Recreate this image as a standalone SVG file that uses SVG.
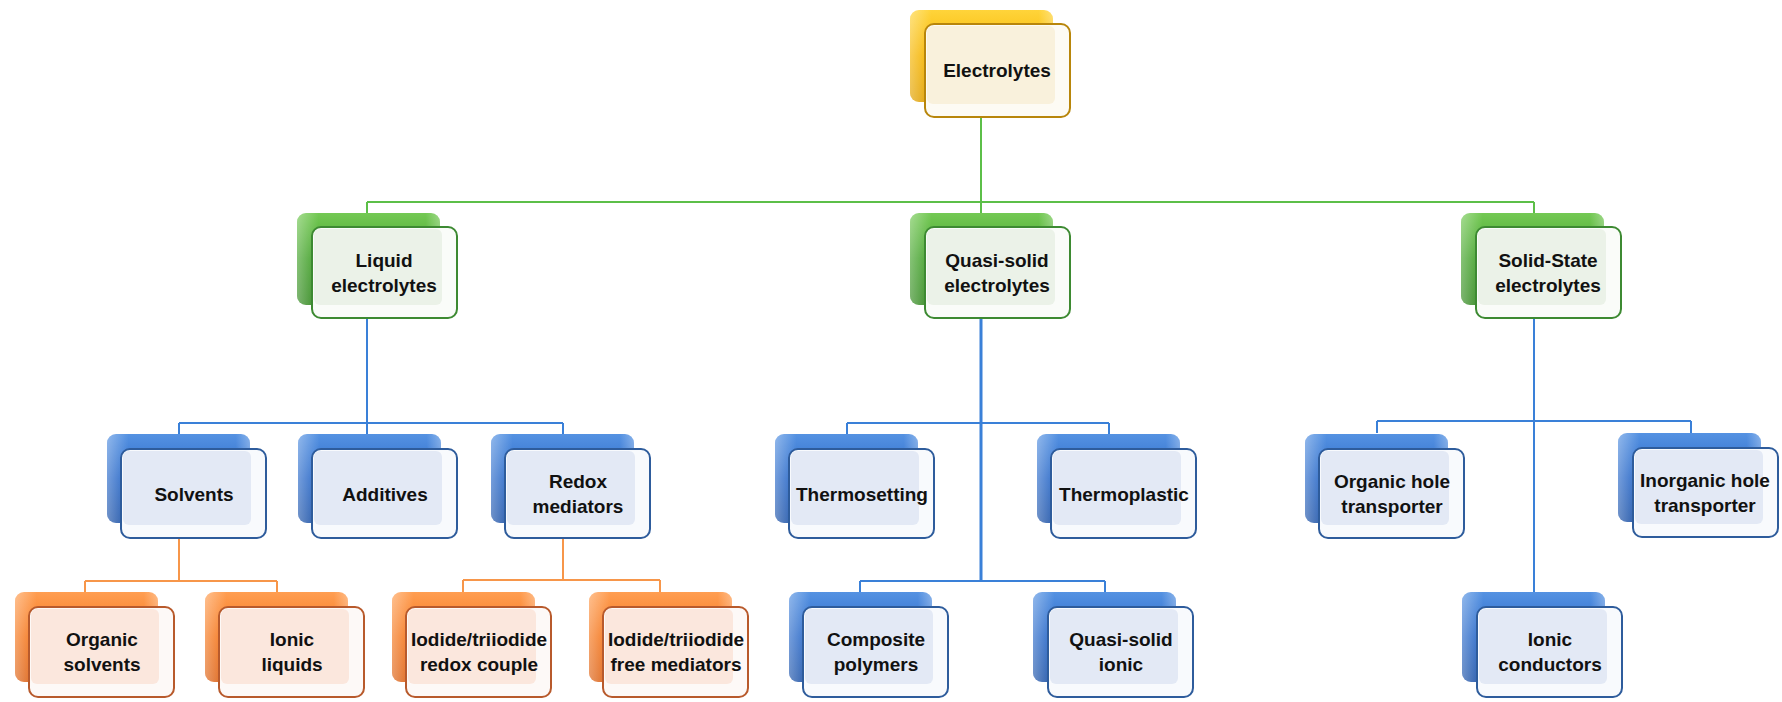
<svg xmlns="http://www.w3.org/2000/svg" width="1782" height="702" viewBox="0 0 1782 702">
<defs>
<linearGradient id="gY" x1="0" y1="0" x2="0" y2="1"><stop offset="0" stop-color="#ffd43a"/><stop offset="0.5" stop-color="#f5b400"/><stop offset="1" stop-color="#e0a000"/></linearGradient>
<linearGradient id="gG" x1="0" y1="0" x2="0" y2="1"><stop offset="0" stop-color="#74c954"/><stop offset="0.5" stop-color="#44a22c"/><stop offset="1" stop-color="#358a22"/></linearGradient>
<linearGradient id="gB" x1="0" y1="0" x2="0" y2="1"><stop offset="0" stop-color="#5592e2"/><stop offset="0.5" stop-color="#2a69c8"/><stop offset="1" stop-color="#1f54a8"/></linearGradient>
<linearGradient id="gO" x1="0" y1="0" x2="0" y2="1"><stop offset="0" stop-color="#ff9e52"/><stop offset="0.5" stop-color="#f4761c"/><stop offset="1" stop-color="#dc6216"/></linearGradient>
<linearGradient id="hl" x1="0" y1="0" x2="1" y2="0"><stop offset="0" stop-color="#fff" stop-opacity="0.35"/><stop offset="0.15" stop-color="#fff" stop-opacity="0"/><stop offset="0.9" stop-color="#fff" stop-opacity="0"/><stop offset="1" stop-color="#fff" stop-opacity="0.3"/></linearGradient>
</defs>
<style>
.t{font-family:"Liberation Sans",Arial,sans-serif;font-weight:bold;font-size:19px;fill:#111;text-anchor:middle}
.bk{stroke:none}
.fr{stroke-width:2}
.in{stroke:none}
.y .bk{fill:url(#gY)} .y .fr{fill:#fdfbf4;stroke:#b8860b} .y .in{fill:#f9f1dc}
.g .bk{fill:url(#gG)} .g .fr{fill:#fafcf9;stroke:#3d8a32} .g .in{fill:#ebf2e8}
.b .bk{fill:url(#gB)} .b .fr{fill:#f8fafd;stroke:#2e5c9c} .b .in{fill:#e3e9f5}
.o .bk{fill:url(#gO)} .o .fr{fill:#fdf9f7;stroke:#b85a2c} .o .in{fill:#fbe7dd}
.hl{fill:url(#hl)}
.cg{stroke:#5cbf48;stroke-width:2;fill:none}
.cb{stroke:#3a80d8;stroke-width:2;fill:none}
.co{stroke:#f7964a;stroke-width:2;fill:none}
</style>
<g id="connectors">
<path class="cg" d="M981,100V202M367,202H1534M367,202V213M981,202V213M1534,202V213"/>
<path class="cb" d="M367,305V423M179,423H563M179,423V434M367,423V434M563,423V434"/>
<path class="cb" d="M847,423H1109M847,423V434M1109,423V434M860,581H1105M860,581V592M1105,581V592"/>
<path class="cb" style="stroke-width:3" d="M981,305V581"/>
<path class="cb" d="M1534,305V592M1377,421H1691M1377,421V433M1691,421V433"/>
<path class="co" d="M179,537V581M85,581H277M85,581V592M277,581V592"/>
<path class="co" d="M563,537V580M463,580H660M463,580V592M660,580V592"/>
</g>
<g id="n-electrolytes" class="y">
<rect class="bk" x="910" y="10" width="143" height="92" rx="9"/><rect class="hl" x="910" y="10" width="143" height="92" rx="9"/>
<rect class="fr" x="925" y="24" width="145" height="93" rx="9"/><rect class="in" x="927" y="26" width="128" height="78" rx="6"/>
<text class="t" x="997" y="77">Electrolytes</text>
</g>
<g id="n-liquid" class="g">
<rect class="bk" x="297" y="213" width="143" height="92" rx="9"/><rect class="hl" x="297" y="213" width="143" height="92" rx="9"/>
<rect class="fr" x="312" y="227" width="145" height="91" rx="9"/><rect class="in" x="314" y="229" width="128" height="76" rx="6"/>
<text class="t" x="384" y="267">Liquid</text><text class="t" x="384" y="292">electrolytes</text>
</g>
<g id="n-quasi" class="g">
<rect class="bk" x="910" y="213" width="143" height="92" rx="9"/><rect class="hl" x="910" y="213" width="143" height="92" rx="9"/>
<rect class="fr" x="925" y="227" width="145" height="91" rx="9"/><rect class="in" x="927" y="229" width="128" height="76" rx="6"/>
<text class="t" x="997" y="267">Quasi-solid</text><text class="t" x="997" y="292">electrolytes</text>
</g>
<g id="n-solid" class="g">
<rect class="bk" x="1461" y="213" width="143" height="92" rx="9"/><rect class="hl" x="1461" y="213" width="143" height="92" rx="9"/>
<rect class="fr" x="1476" y="227" width="145" height="91" rx="9"/><rect class="in" x="1478" y="229" width="128" height="76" rx="6"/>
<text class="t" x="1548" y="267">Solid-State</text><text class="t" x="1548" y="292">electrolytes</text>
</g>
<g id="n-solvents" class="b">
<rect class="bk" x="107" y="434" width="143" height="89" rx="9"/><rect class="hl" x="107" y="434" width="143" height="89" rx="9"/>
<rect class="fr" x="121" y="449" width="145" height="89" rx="9"/><rect class="in" x="123" y="451" width="128" height="74" rx="6"/>
<text class="t" x="194" y="501">Solvents</text>
</g>
<g id="n-additives" class="b">
<rect class="bk" x="298" y="434" width="143" height="89" rx="9"/><rect class="hl" x="298" y="434" width="143" height="89" rx="9"/>
<rect class="fr" x="312" y="449" width="145" height="89" rx="9"/><rect class="in" x="314" y="451" width="128" height="74" rx="6"/>
<text class="t" x="385" y="501">Additives</text>
</g>
<g id="n-redox" class="b">
<rect class="bk" x="491" y="434" width="143" height="89" rx="9"/><rect class="hl" x="491" y="434" width="143" height="89" rx="9"/>
<rect class="fr" x="505" y="449" width="145" height="89" rx="9"/><rect class="in" x="507" y="451" width="128" height="74" rx="6"/>
<text class="t" x="578" y="488">Redox</text><text class="t" x="578" y="513">mediators</text>
</g>
<g id="n-thermosetting" class="b">
<rect class="bk" x="775" y="434" width="143" height="89" rx="9"/><rect class="hl" x="775" y="434" width="143" height="89" rx="9"/>
<rect class="fr" x="789" y="449" width="145" height="89" rx="9"/><rect class="in" x="791" y="451" width="128" height="74" rx="6"/>
<text class="t" x="862" y="501">Thermosetting</text>
</g>
<g id="n-thermoplastic" class="b">
<rect class="bk" x="1037" y="434" width="143" height="89" rx="9"/><rect class="hl" x="1037" y="434" width="143" height="89" rx="9"/>
<rect class="fr" x="1051" y="449" width="145" height="89" rx="9"/><rect class="in" x="1053" y="451" width="128" height="74" rx="6"/>
<text class="t" x="1124" y="501">Thermoplastic</text>
</g>
<g id="n-organic-hole" class="b">
<rect class="bk" x="1305" y="434" width="143" height="89" rx="9"/><rect class="hl" x="1305" y="434" width="143" height="89" rx="9"/>
<rect class="fr" x="1319" y="449" width="145" height="89" rx="9"/><rect class="in" x="1321" y="451" width="128" height="74" rx="6"/>
<text class="t" x="1392" y="488">Organic hole</text><text class="t" x="1392" y="513">transporter</text>
</g>
<g id="n-inorganic-hole" class="b">
<rect class="bk" x="1618" y="433" width="143" height="89" rx="9"/><rect class="hl" x="1618" y="433" width="143" height="89" rx="9"/>
<rect class="fr" x="1633" y="448" width="145" height="89" rx="9"/><rect class="in" x="1635" y="450" width="128" height="74" rx="6"/>
<text class="t" x="1705" y="487">Inorganic hole</text><text class="t" x="1705" y="512">transporter</text>
</g>
<g id="n-organic-solvents" class="o">
<rect class="bk" x="15" y="592" width="143" height="90" rx="9"/><rect class="hl" x="15" y="592" width="143" height="90" rx="9"/>
<rect class="fr" x="29" y="607" width="145" height="90" rx="9"/><rect class="in" x="31" y="609" width="128" height="75" rx="6"/>
<text class="t" x="102" y="646">Organic</text><text class="t" x="102" y="671">solvents</text>
</g>
<g id="n-ionic-liquids" class="o">
<rect class="bk" x="205" y="592" width="143" height="90" rx="9"/><rect class="hl" x="205" y="592" width="143" height="90" rx="9"/>
<rect class="fr" x="219" y="607" width="145" height="90" rx="9"/><rect class="in" x="221" y="609" width="128" height="75" rx="6"/>
<text class="t" x="292" y="646">Ionic</text><text class="t" x="292" y="671">liquids</text>
</g>
<g id="n-iodide-redox" class="o">
<rect class="bk" x="392" y="592" width="143" height="90" rx="9"/><rect class="hl" x="392" y="592" width="143" height="90" rx="9"/>
<rect class="fr" x="406" y="607" width="145" height="90" rx="9"/><rect class="in" x="408" y="609" width="128" height="75" rx="6"/>
<text class="t" x="479" y="646">Iodide/triiodide</text><text class="t" x="479" y="671">redox couple</text>
</g>
<g id="n-iodide-free" class="o">
<rect class="bk" x="589" y="592" width="143" height="90" rx="9"/><rect class="hl" x="589" y="592" width="143" height="90" rx="9"/>
<rect class="fr" x="603" y="607" width="145" height="90" rx="9"/><rect class="in" x="605" y="609" width="128" height="75" rx="6"/>
<text class="t" x="676" y="646">Iodide/triiodide</text><text class="t" x="676" y="671">free mediators</text>
</g>
<g id="n-composite" class="b">
<rect class="bk" x="789" y="592" width="143" height="90" rx="9"/><rect class="hl" x="789" y="592" width="143" height="90" rx="9"/>
<rect class="fr" x="803" y="607" width="145" height="90" rx="9"/><rect class="in" x="805" y="609" width="128" height="75" rx="6"/>
<text class="t" x="876" y="646">Composite</text><text class="t" x="876" y="671">polymers</text>
</g>
<g id="n-quasi-ionic" class="b">
<rect class="bk" x="1033" y="592" width="143" height="90" rx="9"/><rect class="hl" x="1033" y="592" width="143" height="90" rx="9"/>
<rect class="fr" x="1048" y="607" width="145" height="90" rx="9"/><rect class="in" x="1050" y="609" width="128" height="75" rx="6"/>
<text class="t" x="1121" y="646">Quasi-solid</text><text class="t" x="1121" y="671">ionic</text>
</g>
<g id="n-ionic-conductors" class="b">
<rect class="bk" x="1462" y="592" width="143" height="90" rx="9"/><rect class="hl" x="1462" y="592" width="143" height="90" rx="9"/>
<rect class="fr" x="1477" y="607" width="145" height="90" rx="9"/><rect class="in" x="1479" y="609" width="128" height="75" rx="6"/>
<text class="t" x="1550" y="646">Ionic</text><text class="t" x="1550" y="671">conductors</text>
</g>
</svg>
